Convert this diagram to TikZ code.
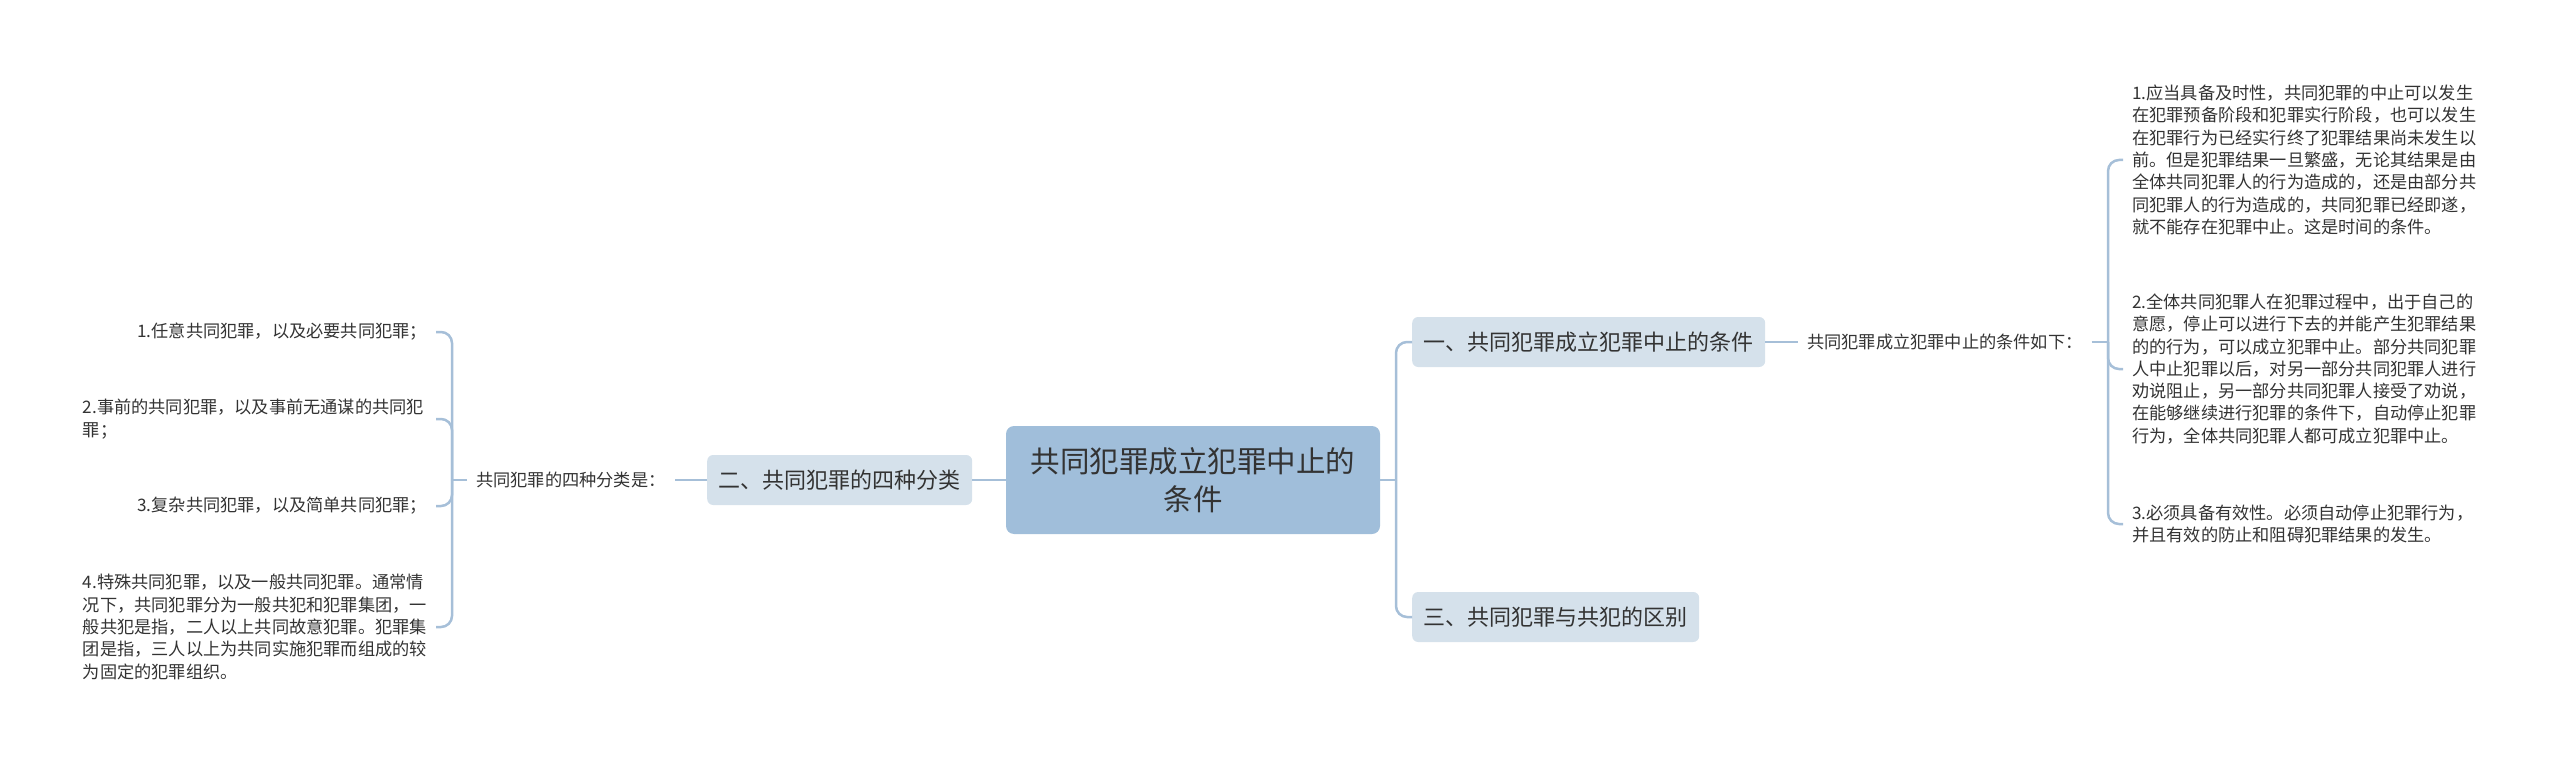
\documentclass[tikz,border=0pt]{standalone}
\usepackage{fontspec}
\setmainfont{Noto Sans CJK SC}
\definecolor{linec}{HTML}{A6BFD8}
\definecolor{mainfill}{HTML}{A0BEDA}
\definecolor{subfill}{HTML}{D5E1EB}
\definecolor{txt}{HTML}{333333}
\begin{document}
\begin{tikzpicture}[x=1pt,y=-1pt,
 conn/.style={draw=linec,line width=2.5pt,rounded corners=11pt},
 mainbox/.style={fill=mainfill,rounded corners=8pt,minimum width=374pt,minimum height=108pt,align=center,font=\fontsize{29.5pt}{38pt}\selectfont,text=txt,inner sep=0pt},
 subbox/.style={fill=subfill,rounded corners=6pt,minimum height=50pt,inner xsep=11.5pt,inner ysep=0pt,font=\fontsize{22pt}{28pt}\selectfont,text=txt},
 plain/.style={inner xsep=9pt,inner ysep=2pt,font=\fontsize{17.2pt}{22.3pt}\selectfont,text=txt},
 para/.style={plain,text width=344pt,align=left}
]
\useasboundingbox (0,0) rectangle (2560,765);

% centre
\node[mainbox] (C) at (1193,480) {共同犯罪成立犯罪中止的\\条件};

% left branch
\node[subbox,anchor=west] (B2) at (707,480) {二、共同犯罪的四种分类};
\node[plain,anchor=west] (L) at (467,480) {共同犯罪的四种分类是：};
\node[plain,anchor=east] (i1) at (436,332) {1.任意共同犯罪，以及必要共同犯罪；};
\node[para,anchor=east] (i2) at (436,419) {2.事前的共同犯罪，以及事前无通谋的共同犯\\罪；};
\node[plain,anchor=east] (i3) at (436,506) {3.复杂共同犯罪，以及简单共同犯罪；};
\node[para,anchor=east] (i4) at (436,627) {4.特殊共同犯罪，以及一般共同犯罪。通常情\\况下，共同犯罪分为一般共犯和犯罪集团，一\\般共犯是指，二人以上共同故意犯罪。犯罪集\\团是指，三人以上为共同实施犯罪而组成的较\\为固定的犯罪组织。};

% right branch
\node[subbox,anchor=west] (B1) at (1412,342) {一、共同犯罪成立犯罪中止的条件};
\node[subbox,anchor=west] (B3) at (1412,617) {三、共同犯罪与共犯的区别};
\node[plain,anchor=west] (R) at (1798,342) {共同犯罪成立犯罪中止的条件如下：};
\node[para,anchor=west] (r1) at (2123,160) {1.应当具备及时性，共同犯罪的中止可以发生\\在犯罪预备阶段和犯罪实行阶段，也可以发生\\在犯罪行为已经实行终了犯罪结果尚未发生以\\前。但是犯罪结果一旦繁盛，无论其结果是由\\全体共同犯罪人的行为造成的，还是由部分共\\同犯罪人的行为造成的，共同犯罪已经即遂，\\就不能存在犯罪中止。这是时间的条件。};
\node[para,anchor=west] (r2) at (2123,369) {2.全体共同犯罪人在犯罪过程中，出于自己的\\意愿，停止可以进行下去的并能产生犯罪结果\\的的行为，可以成立犯罪中止。部分共同犯罪\\人中止犯罪以后，对另一部分共同犯罪人进行\\劝说阻止，另一部分共同犯罪人接受了劝说，\\在能够继续进行犯罪的条件下，自动停止犯罪\\行为，全体共同犯罪人都可成立犯罪中止。};
\node[para,anchor=west] (r3) at (2123,524) {3.必须具备有效性。必须自动停止犯罪行为，\\并且有效的防止和阻碍犯罪结果的发生。};

% junctions
\coordinate (jl) at (452,480);
\coordinate (jr) at (1396,480);
\coordinate (jr2) at (2108,342);

% connectors
\draw[conn] (C.west) -- (B2.east);
\draw[conn] (B2.west) -- (L.east);
\draw[conn] (L.west) -- (jl);
\draw[conn] (jl) |- (i1.east);
\draw[conn] (jl) |- (i2.east);
\draw[conn] (jl) |- (i3.east);
\draw[conn] (jl) |- (i4.east);

\draw[conn] (C.east) -- (jr);
\draw[conn] (jr) |- (B1.west);
\draw[conn] (jr) |- (B3.west);
\draw[conn] (B1.east) -- (R.west);
\draw[conn] (R.east) -- (jr2);
\draw[conn] (jr2) |- (r1.west);
\draw[conn] (jr2) |- (r2.west);
\draw[conn] (jr2) |- (r3.west);
\end{tikzpicture}
\end{document}
